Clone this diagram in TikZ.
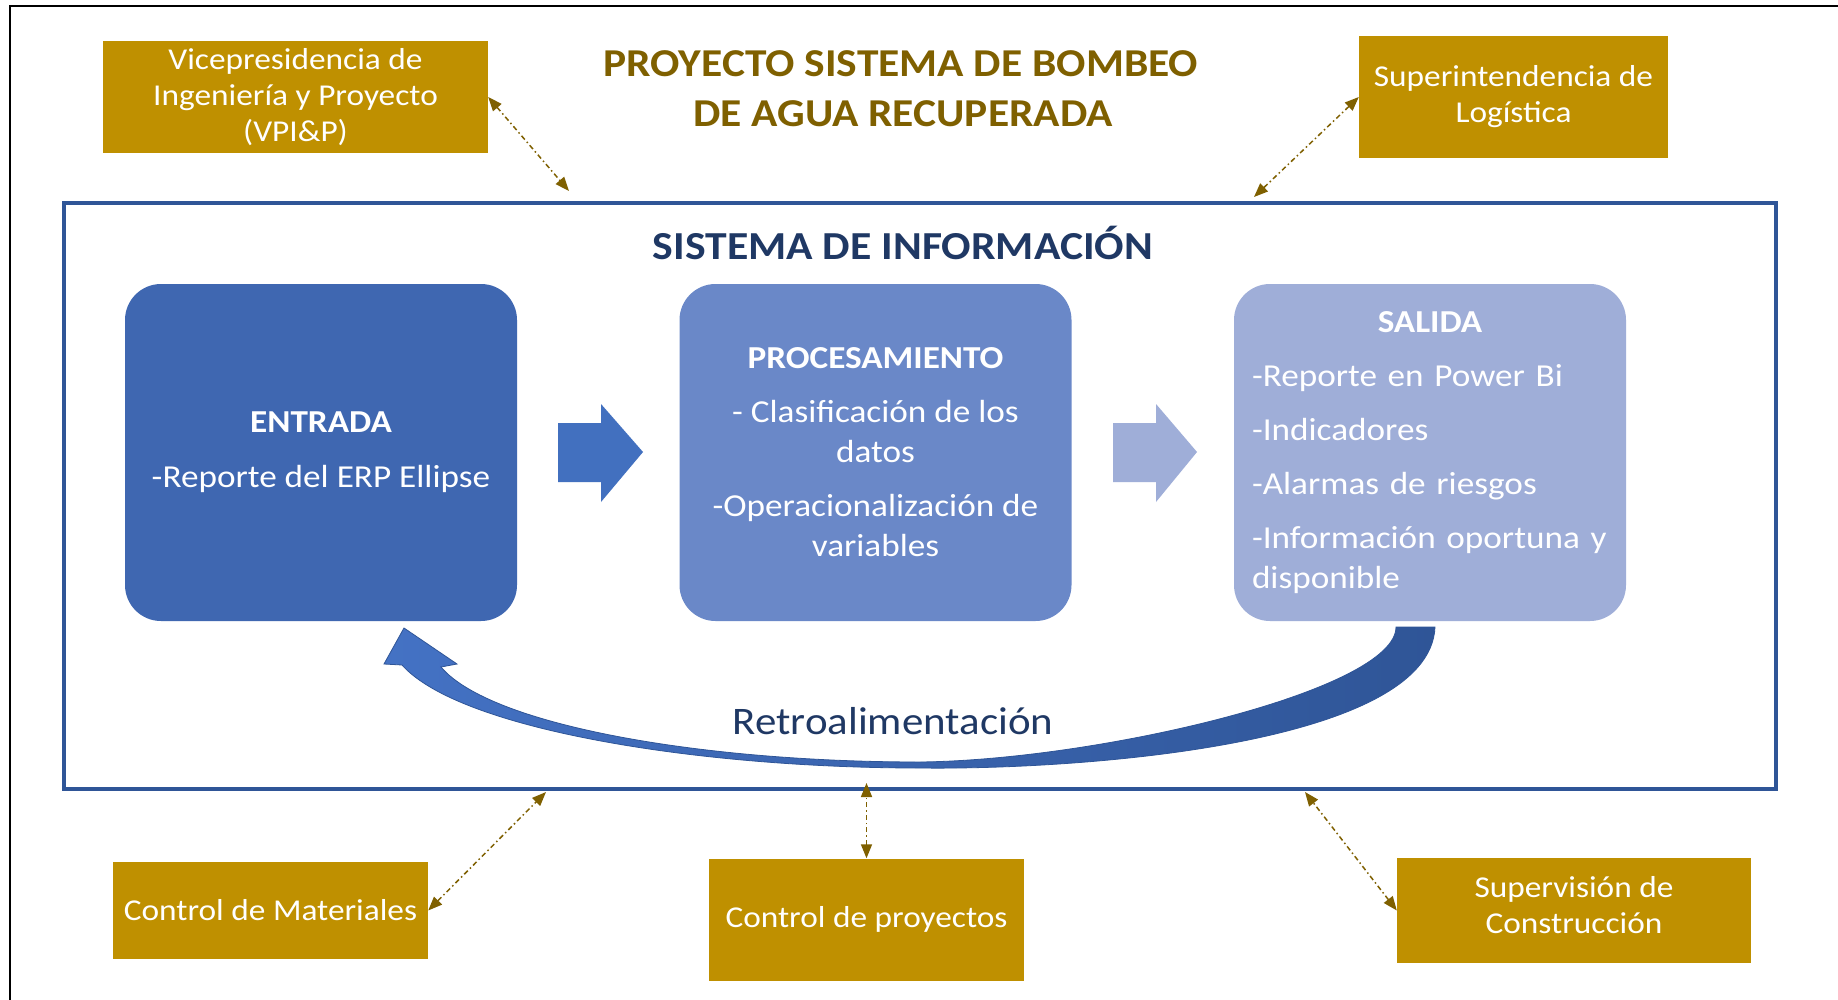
\documentclass[tikz,border=0pt]{standalone}
\usepackage{fontspec}
\setmainfont{Carlito}[FakeStretch=1.1]
\usetikzlibrary{arrows.meta}
\definecolor{gold}{HTML}{BF9000}
\definecolor{darkgold}{HTML}{7F6000}
\definecolor{frameblue}{HTML}{2F5597}
\definecolor{navy}{HTML}{1F3864}
\definecolor{boxA}{HTML}{3F67B1}
\definecolor{boxB}{HTML}{6A88C8}
\definecolor{boxC}{HTML}{9FAED8}
\definecolor{arrA}{HTML}{4270BF}
\definecolor{fbLeft}{HTML}{4472C4}
\begin{document}
\begin{tikzpicture}[x=1pt,y=-1pt,
  goldbox/.style={fill=gold, text=white, font=\fontsize{30.3}{36}\selectfont, align=center, inner sep=0pt},
  stagebox/.style={rounded corners=36pt, text=white, font=\fontsize{32}{40}\selectfont, inner sep=0pt, minimum width=392pt, minimum height=337pt},
  link/.style={darkgold, line width=1.5pt, dash pattern=on 5pt off 3pt on 1.5pt off 3pt, {Triangle[length=14pt,width=11pt]}-{Triangle[length=14pt,width=11pt]}},
  titletext/.style={darkgold, font=\fontsize{39.5}{48}\selectfont\bfseries, anchor=base, inner sep=0pt}
  ]
\useasboundingbox (0,0) rectangle (1838,1000);
\fill[white] (0,0) rectangle (1838,1000);
% outer black frame (left and top)
\draw[black, line width=2pt] (10,1000) -- (10,6) -- (1838,6);

% title
\node[titletext] (title1) at (901,77) {PROYECTO SISTEMA DE BOMBEO};
\node[titletext] (title2) at (903,127) {DE AGUA RECUPERADA};

% external boxes
\node[goldbox, minimum width=385pt, minimum height=112pt] (vpi) at (295.5,97) {Vicepresidencia de\\Ingeniería y Proyecto\\(VPI\&P)};
\node[goldbox, minimum width=309pt, minimum height=122pt] (sup) at (1513.5,97) {Superintendencia de\\Logística};
\node[goldbox, minimum width=315pt, minimum height=97pt] (mat) at (270.5,910.5) {Control de Materiales};
\node[goldbox, minimum width=315pt, minimum height=122pt] (proy) at (866.5,919.5) {Control de proyectos};
\node[goldbox, minimum width=354pt, minimum height=105pt, text depth=12pt] (supv) at (1574,910.5) {Supervisión de\\Construcción};

% information system frame
\node[draw=frameblue, line width=4pt, minimum width=1712pt, minimum height=586pt, inner sep=0pt] (sis) at (920,496) {};
\node[navy, font=\fontsize{39.7}{48}\selectfont\bfseries, anchor=base, inner sep=0pt] (sistitle) at (903,260) {SISTEMA DE INFORMACIÓN};

% stages
\node[stagebox, fill=boxA, align=center] (entrada) at (321,452.5) {\textbf{ENTRADA}\\[15pt]-Reporte del ERP Ellipse};
\node[stagebox, fill=boxB, align=center] (proc) at (875.5,452.5) {\textbf{PROCESAMIENTO}\\[14pt]- Clasificación de los\\datos\\[14pt]-Operacionalización de\\variables};
\node[stagebox, fill=boxC, align=left, text width=356pt] (salida) at (1430,452.5) {\makebox[356pt]{\textbf{SALIDA}}\\[14pt]-Reporte en Power Bi\\[14pt]-Indicadores\\[14pt]-Alarmas de riesgos\\[14pt]-Información oportuna y\\disponible};

% block arrows
\fill[arrA] (558,423) -- (601,423) -- (601,404) -- (643,452) -- (601,502) -- (601,482) -- (558,482) -- cycle;
\fill[boxC] (1113,423) -- (1156,423) -- (1156,404) -- (1197,452) -- (1156,502) -- (1156,482) -- (1113,482) -- cycle;

% feedback curved arrow
\path[draw=frameblue, line width=0.8pt, left color=fbLeft, right color=frameblue]
  (404,628) -- (457,664) -- (441,667)
  .. controls (490,725) and (700,762) .. (920,762)
  .. controls (1100,760) and (1396,690) .. (1396,627)
  -- (1435,627)
  .. controls (1430,745) and (1080,770) .. (920,768)
  .. controls (700,768) and (460,730) .. (402,665)
  -- (384,664) -- cycle;
\node[navy, font=\fontsize{39}{48}\selectfont, anchor=base, inner sep=0pt] (retro) at (893,734) {Retroalimentación};

% connectors
\coordinate (vpiEnd) at (569,191);
\coordinate (supEnd) at (1254,197);
\coordinate (matEnd) at (546,792);
\coordinate (proyEnd) at (866.5,783);
\coordinate (supvEnd) at (1305,792);
\draw[link] (vpi.east) -- (vpiEnd);
\draw[link] (sup.west) -- (supEnd);
\draw[link] (mat.east) -- (matEnd);
\draw[link] (proy.north) -- (proyEnd);
\draw[link] (supv.west) -- (supvEnd);
\end{tikzpicture}
\end{document}
